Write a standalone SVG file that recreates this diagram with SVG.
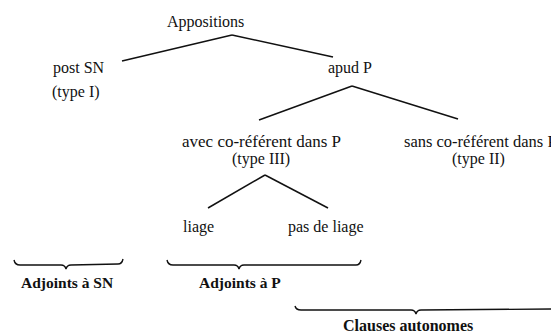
<svg xmlns="http://www.w3.org/2000/svg" width="551" height="336" viewBox="0 0 551 336">
<style>
  text { font-family: "Liberation Serif", "Times New Roman", serif; font-size: 16px; fill: #111; }
  .l { font-size: 17px; }
  .s { font-size: 16.5px; }
  .b { font-weight: bold; font-size: 15.5px; }
  .e { stroke: #111; stroke-width: 1.5; fill: none; }
  .br { stroke: #111; stroke-width: 1.4; fill: none; }
</style>
<rect width="551" height="336" fill="#fff"/>
<g id="connectors">
  <line class="e" x1="232" y1="35" x2="122" y2="61"/>
  <line class="e" x1="232" y1="35" x2="333" y2="57"/>
  <line class="e" x1="352" y1="86" x2="259" y2="120"/>
  <line class="e" x1="352" y1="86" x2="458" y2="119"/>
  <line class="e" x1="265" y1="175" x2="208" y2="208"/>
  <line class="e" x1="265" y1="175" x2="328" y2="208"/>
</g>
<g id="n-appositions"><text x="167" y="27">Appositions</text></g>
<g id="n-postsn"><text x="53" y="73">post SN</text><text x="52" y="97">(type I)</text></g>
<g id="n-apudp"><text x="328" y="73">apud P</text></g>
<g id="n-avec"><text class="l" x="182" y="147">avec co-référent dans P</text><text x="232" y="164">(type III)</text></g>
<g id="n-sans"><text class="s" x="404" y="147">sans co-référent dans P</text><text x="452" y="164">(type II)</text></g>
<g id="n-liage"><text x="183" y="232">liage</text></g>
<g id="n-pasdeliage"><text x="288" y="232">pas de liage</text></g>
<g id="brace-sn">
  <path class="br" d="M14,260 Q15,265 20,265 L61,265 Q65,265 66,269 Q67,265 71,265 L118,264 Q122,264 123,259"/>
  <text class="b" x="21" y="288">Adjoints à SN</text>
</g>
<g id="brace-p">
  <path class="br" d="M167,260 Q168,265 173,265 L234,265 Q238,265 239,269 Q240,265 244,265 L356,265 Q360,265 361,260"/>
  <text class="b" x="199" y="288">Adjoints à P</text>
</g>
<g id="brace-clauses">
  <path class="br" d="M295,306 Q296,310 301,310 L411,310 Q415,310 416,314 Q417,310 421,310 L551,309"/>
  <text class="b" x="343" y="331" style="font-size:16px">Clauses autonomes</text>
</g>
</svg>
